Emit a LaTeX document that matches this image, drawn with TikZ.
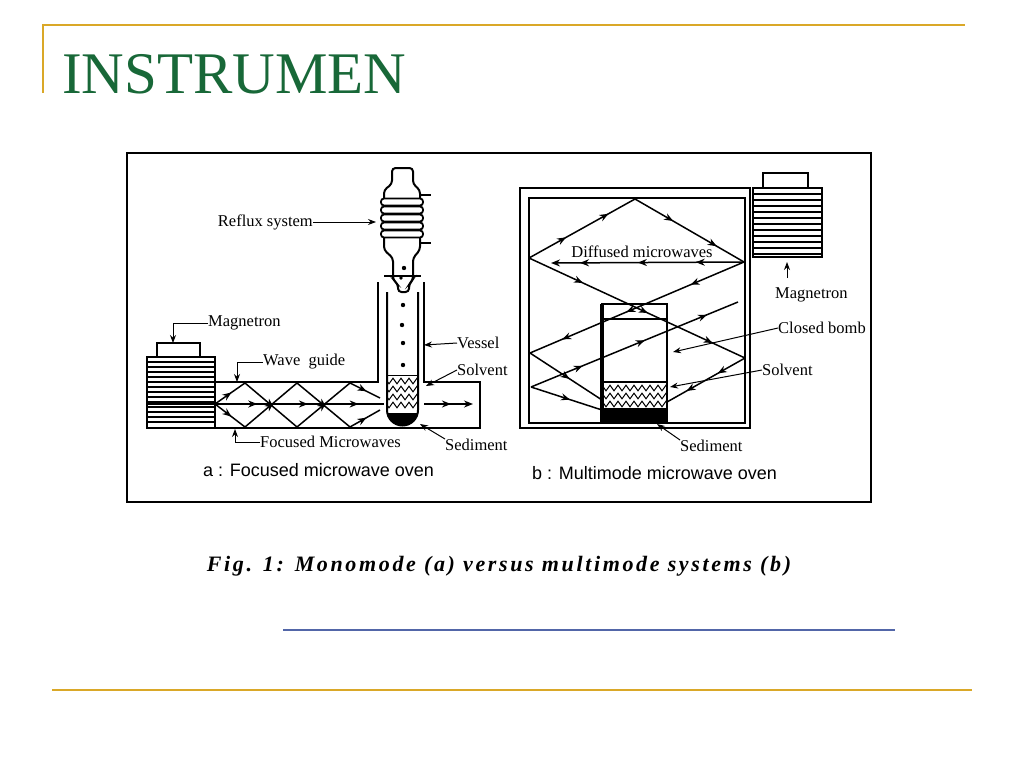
\documentclass[tikz,border=0pt]{standalone}
\usepackage{fontspec}
\setmainfont{Liberation Serif}
\setsansfont{Liberation Sans}
\newfontfamily\capfont[LetterSpace=12]{Liberation Serif}
\usetikzlibrary{arrows.meta,decorations.markings,decorations.pathmorphing}
\definecolor{gold}{RGB}{218,168,40}
\definecolor{titlegreen}{RGB}{24,104,56}
\definecolor{lineblue}{RGB}{82,102,168}
\tikzset{
  wall/.style={line width=2pt},
  ray/.style={line width=1.5pt},
  lead/.style={line width=1pt,-{Stealth[length=8pt,width=6pt]}},
  lbl/.style={font=\fontsize{16.5}{18}\selectfont, inner sep=0pt},
  sanslbl/.style={font=\sffamily\fontsize{18}{20}\selectfont, inner sep=0pt},
  onearr/.style={postaction={decorate},decoration={markings,
      mark=at position 0.55 with {\arrow{Stealth[length=9pt,width=7pt]}}}},
  twoarr/.style={postaction={decorate},decoration={markings,
      mark=at position 0.35 with {\arrow{Stealth[length=9pt,width=7pt]}},
      mark=at position 0.75 with {\arrow{Stealth[length=9pt,width=7pt]}}}},
  threearr/.style={postaction={decorate},decoration={markings,
      mark=at position 0.25 with {\arrow{Stealth[length=9pt,width=7pt]}},
      mark=at position 0.55 with {\arrow{Stealth[length=9pt,width=7pt]}},
      mark=at position 0.85 with {\arrow{Stealth[length=9pt,width=7pt]}}}},
  wavy/.style={line width=1pt,decorate,decoration={zigzag,segment length=8pt,amplitude=2.8pt}},
}
\begin{document}
\begin{tikzpicture}[x=1pt,y=-1pt]
\useasboundingbox (0,0) rectangle (1024,768);
\fill[white] (0,0) rectangle (1024,768);

% slide decorations
\draw[gold,line width=2pt] (42,25) -- (965,25);
\draw[gold,line width=2pt] (43,25) -- (43,93);
\draw[gold,line width=2pt] (52,690) -- (972,690);
\draw[lineblue,line width=2pt] (283,630) -- (895,630);
\node[anchor=base west,inner sep=0pt,text=titlegreen,font=\fontsize{59}{60}\selectfont] (title) at (62,93) {INSTRUMEN};

% figure frame
\draw[line width=2.2pt] (127,153) rectangle (871,502);

% ================= panel a =================
% magnetron
\draw[wall] (147,357) rectangle (215,428);
\draw[wall] (157,343) rectangle (200,357);
\foreach \yy in {362,367,...,424} \draw[line width=1.1pt] (147,\yy) -- (215,\yy);
\draw[line width=2.2pt] (147,404) -- (215,404);

% waveguide and cavity
\draw[wall] (215,382) -- (378,382) -- (378,282);
\draw[wall] (424,282) -- (424,382) -- (480,382) -- (480,428) -- (215,428);

% condenser
\draw[wall,fill=white,rounded corners=3.5pt] (384,250) -- (384,190) -- (392,184) -- (392,168) -- (413,168) -- (413,184) -- (420,190) -- (420,250) -- (413,258) -- (413,280) -- (409,284) -- (409,292) -- (398,292) -- (398,284) -- (393,280) -- (393,258) -- cycle;
\foreach \yy in {202,210,218,226,234}
  \draw[line width=1.8pt,fill=white,rounded corners=3pt] (381,\yy-3.5) rectangle (423,\yy+3.5);
\draw[line width=1.8pt] (420,195) -- (431,195);
\draw[line width=1.8pt] (420,243) -- (431,243);
\fill (404,268) circle (2.2pt);
\fill (401,278) circle (1.8pt);

% vessel tube
\draw[wall] (384,276) -- (421,276);
\begin{scope}
  \clip (387,276) -- (387,410) arc[start angle=180,end angle=0,radius=15.5] -- (418,276) -- cycle;
  \foreach \yy in {381,389,397,405} \draw[wavy] (383,\yy) -- (423,\yy);
  \fill (384,413) rectangle (422,428);
\end{scope}
\draw[wall] (387,292) -- (387,410) arc[start angle=180,end angle=0,radius=15.5] -- (418,292);
\draw[line width=1pt] (387,375) -- (418,375);
\foreach \yy/\xx in {305/403,325/402,343/403,365/403} \fill (\xx,\yy) circle (2.2pt);

% rays in the waveguide
\draw[ray,threearr] (215,404) -- (384,404);
\draw[ray,onearr] (215,404) -- (245,383);
\draw[ray,onearr] (245,383) -- (297,427);
\draw[ray,onearr] (297,427) -- (350,383);
\draw[ray,onearr] (350,383) -- (380,398);
\draw[ray,onearr] (215,404) -- (245,427);
\draw[ray,onearr] (245,427) -- (297,383);
\draw[ray,onearr] (297,383) -- (350,427);
\draw[ray,onearr] (350,427) -- (380,410);
\draw[ray,onearr,-{Stealth[length=9pt,width=7pt]}] (424,404) -- (473,404);

% labels a
\node[lbl,anchor=east] (reflux) at (313,222) {Reflux system};
\coordinate (refluxtip) at (376,222);
\draw[lead] (reflux.east) -- (refluxtip);
\node[lbl,anchor=west] (maga) at (208,323) {Magnetron};
\coordinate (magatip) at (173,343);
\draw[lead] (maga.west) -| (magatip);
\node[lbl,anchor=west] (wg) at (263,362) {Wave\ \ guide};
\coordinate (wgtip) at (237,382);
\draw[lead] (wg.west) -| (wgtip);
\node[lbl,anchor=west] (fm) at (260,442) {Focused Microwaves};
\coordinate (fmtip) at (235,429);
\draw[lead] (fm.west) -| (fmtip);
\node[lbl,anchor=west] (vessel) at (457,343) {Vessel};
\coordinate (vesseltip) at (424,345);
\draw[lead] (vessel.west) -- (vesseltip);
\node[lbl,anchor=west] (solva) at (457,370) {Solvent};
\coordinate (solvatip) at (426,386);
\draw[lead] (solva.west) -- (solvatip);
\node[lbl,anchor=west] (seda) at (445,445) {Sediment};
\coordinate (sedatip) at (420,424);
\draw[lead] (seda.north west) -- (sedatip);
\node[sanslbl,anchor=west] (capa) at (203,470) {a : Focused microwave oven};

% ================= panel b =================
\draw[wall] (520,188) rectangle (750,428);
\draw[wall] (529,198) rectangle (745,423);
% magnetron b
\draw[wall] (753,188) rectangle (822,257);
\draw[wall] (763,173) rectangle (808,188);
\foreach \yy in {194,200,...,254} \draw[line width=1.1pt] (753,\yy) -- (822,\yy);

% bomb
\begin{scope}
  \clip (602,382) rectangle (667,408);
  \foreach \yy in {388,396,404} \draw[wavy] (600,\yy) -- (670,\yy);
\end{scope}
\fill (602,408) rectangle (667,422);
\draw[line width=1.5pt] (602,304) rectangle (667,422);
\draw[line width=3.2pt] (602,304) -- (602,422);
\draw[line width=1.2pt] (602,319) -- (667,319);
\draw[line width=1.2pt] (602,382) -- (667,382);

% rays b
\coordinate (L) at (529,258);
\coordinate (T) at (635,199);
\coordinate (R) at (744,262);
\coordinate (W1) at (745,358);
\coordinate (W2) at (530,353);
\coordinate (W3) at (531,387);
\draw[ray,twoarr] (L) -- (T);
\draw[ray,twoarr] (T) -- (R);
\draw[ray,threearr,-{Stealth[length=9pt,width=7pt]}] (R) -- (551,263);
\draw[ray,threearr] (L) -- (W1);
\draw[ray,threearr] (R) -- (W2);
\draw[ray,twoarr] (W1) -- (667,402);
\draw[ray,onearr] (W2) -- (602,400);
\draw[ray,threearr] (W3) -- (738,302);
\draw[ray,onearr] (W3) -- (602,410);

% labels b
\node[lbl] (diff) at (642,252) {Diffused microwaves};
\node[lbl,anchor=west] (magb) at (775,295) {Magnetron};
\coordinate (magbtail) at (787,278);
\coordinate (magbtip) at (787,262);
\draw[lead] (magbtail) -- (magbtip);
\node[lbl,anchor=west] (bombl) at (778,328) {Closed bomb};
\coordinate (bombtip) at (673,352);
\draw[lead] (bombl.west) -- (bombtip);
\node[lbl,anchor=west] (solvb) at (762,370) {Solvent};
\coordinate (solvbtip) at (670,387);
\draw[lead] (solvb.west) -- (solvbtip);
\node[lbl,anchor=west] (sedb) at (680,446) {Sediment};
\coordinate (sedbtip) at (657,424);
\draw[lead] (sedb.north west) -- (sedbtip);
\node[sanslbl,anchor=west] (capb) at (532,473) {b : Multimode microwave oven};

% caption
\node[inner sep=0pt,font=\capfont\bfseries\itshape\fontsize{22}{24}\selectfont] (cap) at (499,566) {Fig. 1: Monomode (a) versus multimode systems (b)};
\end{tikzpicture}
\end{document}
